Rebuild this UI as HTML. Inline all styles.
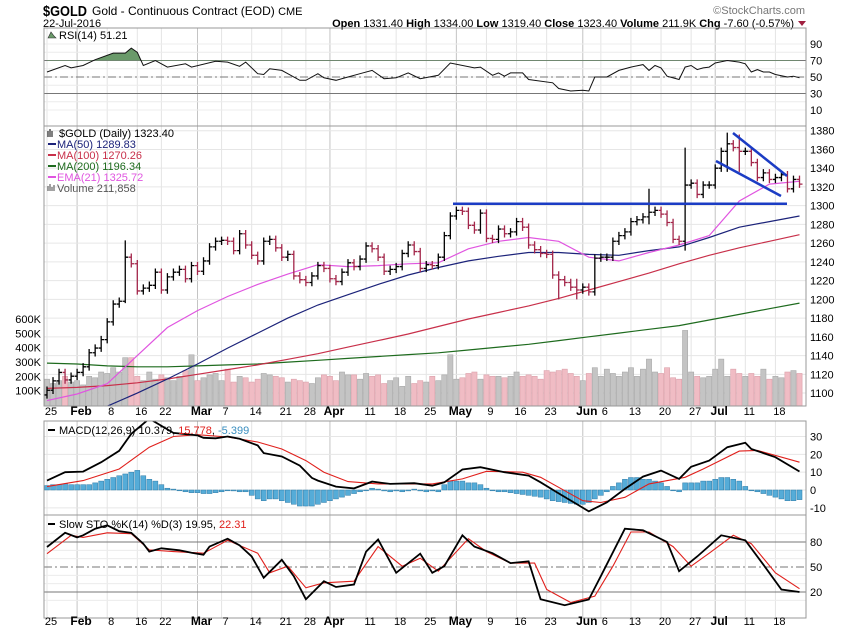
<!DOCTYPE html>
<html><head><meta charset="utf-8"><style>
body{margin:0;background:#fff;}
svg{display:block;font-family:"Liberation Sans",sans-serif;}
</style></head><body>
<svg id="c" width="850" height="633" viewBox="0 0 850 633" xmlns="http://www.w3.org/2000/svg">
<defs>
<clipPath id="cpR"><rect x="44" y="28" width="762" height="98"/></clipPath>
<clipPath id="cpP"><rect x="44" y="126" width="762" height="280"/></clipPath>
<clipPath id="cpM"><rect x="44" y="421" width="762" height="94"/></clipPath>
<clipPath id="cpS"><rect x="44" y="515" width="762" height="103"/></clipPath>
<clipPath id="cpRf"><rect x="44" y="28" width="762" height="33"/></clipPath>
</defs>
<g>
<text x="43" y="16" font-size="15" font-weight="bold" textLength="44" lengthAdjust="spacingAndGlyphs">$GOLD</text>
<text x="92" y="15" font-size="12">Gold - Continuous Contract (EOD) <tspan font-size="11">CME</tspan></text>
<text x="43" y="27" font-size="11">22-Jul-2016</text>
<text x="805" y="14" font-size="11" fill="#777" text-anchor="end">©StockCharts.com</text>
<text x="794" y="27" font-size="11" text-anchor="end"><tspan font-weight="bold">Open</tspan> 1331.40 <tspan font-weight="bold">High</tspan> 1334.00 <tspan font-weight="bold">Low</tspan> 1319.40 <tspan font-weight="bold">Close</tspan> 1323.40 <tspan font-weight="bold">Volume</tspan> 211.9K <tspan font-weight="bold">Chg</tspan> -7.60 (-0.57%)</text>
<path d="M798 21 L806 21 L802 26 Z" fill="#a02040"/>
</g>
<g id="grid"></g>
<g id="marks"></g>
<g id="frames"></g>
<g id="labels"></g>
</svg>
<script>
const closes=[1103,1113,1122,1114,1118,1122,1128,1143,1148,1157,1176,1195,1198,1245,1238,1209,1212,1215,1229,1210,1224,1229,1232,1222,1236,1230,1241,1256,1262,1263,1262,1252,1270,1258,1247,1241,1262,1264,1255,1245,1248,1225,1221,1218,1225,1236,1233,1222,1219,1229,1239,1235,1243,1257,1254,1245,1230,1232,1235,1249,1258,1251,1233,1237,1236,1245,1268,1289,1295,1294,1279,1274,1292,1265,1264,1275,1270,1272,1283,1277,1258,1253,1249,1248,1226,1221,1218,1213,1210,1213,1208,1244,1245,1245,1262,1268,1272,1283,1285,1288,1293,1295,1291,1282,1264,1262,1322,1324,1312,1322,1322,1340,1358,1366,1362,1358,1358,1346,1330,1335,1328,1330,1333,1318,1328,1323];
const spikeBar=[13,85,88,100,106,113,115];
const spikeHigh=[1263,1230,1222,1318,1362,1378,1376];
const spikeLow=[1196,1200,1200,1280,1252,1336,1336];
const volumes=[180,150,170,200,160,170,140,200,190,230,220,260,230,330,330,200,170,230,180,210,190,170,200,240,350,170,190,210,220,170,250,160,200,190,160,180,220,210,200,190,160,180,170,160,150,190,210,200,170,230,210,210,180,220,200,210,150,170,190,130,200,150,170,160,200,170,210,350,180,190,220,230,180,210,200,200,190,200,230,200,210,200,180,240,230,240,250,220,200,170,220,260,200,250,220,200,230,260,200,250,320,230,220,260,190,180,520,230,200,190,200,250,320,200,250,220,200,220,200,250,180,200,190,230,240,220];
const maBar=[0,5,10,15,20,25,30,35,40,45,50,55,60,65,70,75,80,85,90,95,100,105,110,115,120,125];
const ma200=[1132,1131,1129,1128,1128,1129,1130,1131,1133,1135,1137,1139,1141,1143,1146,1149,1152,1156,1160,1164,1168,1172,1178,1184,1190,1196];
const ma100=[1105,1106,1108,1111,1115,1120,1125,1130,1136,1142,1149,1156,1163,1171,1179,1186,1193,1201,1210,1219,1228,1238,1247,1255,1262,1269];
const ma50=[1060,1072,1086,1100,1115,1131,1148,1164,1180,1194,1205,1216,1226,1234,1241,1246,1250,1250,1248,1247,1252,1256,1266,1277,1283,1289];
const ema21=[1092,1099,1110,1140,1170,1188,1203,1216,1227,1237,1235,1236,1238,1239,1254,1262,1266,1262,1245,1241,1250,1258,1268,1305,1323,1326];
const rsiBar=[0,3,4,6,8,11,13,14,15,16,18,20,23,24,28,30,32,33,35,36,37,39,40,42,43,45,46,48,50,52,54,56,58,60,62,65,67,71,72,74,75,76,77,79,80,84,85,87,89,90,91,93,95,97,99,100,101,102,103,105,106,107,108,109,110,111,113,115,116,117,118,119,120,121,123,124,125];
const rsiVal=[56,64,61,64,71,79,79,85,80,64,70,62,66,62,69,68,63,68,54,53,60,58,54,46,46,54,49,46,50,54,58,48,49,55,48,52,67,61,62,52,55,51,55,55,47,43,36,33,34,33,50,50,58,62,65,58,64,61,51,47,62,64,59,61,62,67,70,68,66,56,59,56,56,53,50,51,49];
const macdBar=[0,3,6,9,12,14,17,21,25,26,28,30,32,35,36,39,42,44,45,48,51,54,57,61,64,66,69,72,76,80,82,85,88,90,93,96,99,102,105,107,110,113,116,117,121,125];
const macdVal=[5.3,10,10.3,15.6,22,31.5,40,32,30.6,29.3,29,30,28.7,25,20.7,18.8,13.7,6.8,5.3,1.9,0.9,4.7,3.4,3.8,2.4,4.3,11.5,12.8,10,8.1,4.3,-1.9,-7.9,-12,-6.9,0.6,7.5,10.9,6.2,13,16.5,24,26.5,23,18.4,10.4];
const sigBar=[0,6,12,17,21,25,30,35,39,43,46,50,55,64,69,73,79,82,86,89,92,96,100,106,109,115,118,125];
const sigVal=[1.9,5.3,11.8,24,30,31,29.7,26.9,23,16.5,10,4.7,3.4,3.4,6.2,10.5,10,7.1,-0.4,-6,-7,-4.1,3.4,7.1,11.8,21.8,22.2,15.6];
const histVal=[2.5,3,3,3.5,3,3,3,3,4,5,6,7,8,9,10,11,8,6,5,3,1,0.5,-0.3,-1,-1.5,-1.5,-2,-2,-1.5,-1,0,-0.5,-1,-1,-3,-5,-6,-5,-5,-6,-7,-8,-9,-9,-9,-8,-7,-6,-5,-4,-3,-2,-1,0,1,0.5,-0.5,-1,-0.5,-1,-0.5,0.5,-0.5,-1,-0.5,-1,3,5,5,5,4,4,3,1,0,-1,-1,-1.5,-2,-2.5,-3,-3.5,-4,-5,-6,-6.5,-7,-7.5,-8,-8,-7,-5,-3,-1,2,4,6,7,7,6,6,5,4,2,0,-1,4,4,4,5,5,6,7,7,6,5,2,0,-1,-2,-3,-4,-5,-6,-6,-5.4];
const stoKBar=[0,3,5,6,8,10,12,14,16,17,19,22,24,26,27,30,32,34,36,39,41,43,46,48,51,53,55,58,62,64,66,69,71,74,77,80,82,86,90,92,96,99,103,105,108,112,116,119,122,125];
const stoKVal=[74,91,85.5,88,96,100,93,91,78,68.5,72.5,70,67,64.6,74.5,84,76,62.6,37,58.7,39,11.3,33,26,29,68.5,83,43,66,43,51,88,74.5,66.6,54.7,56.7,11.3,4.2,11,39,96,94,80,45,62.6,88,82,52.8,23,20];
const stoDBar=[0,4,6,10,14,17,21,26,30,35,37,40,43,46,51,55,59,62,65,70,73,77,81,83,87,91,94,97,100,104,107,110,114,117,121,125];
const stoDVal=[66,88,85.5,91,90,70.5,68.5,66.6,82,66.6,43,51,25,31,33,74.5,51,60.6,45,84,68.5,54.7,54.7,23,7.4,15,51,92,92,74.5,51,66.6,88,78,43,24];
const dateBar=[0,5,10,15,19,25,29,34,39,43,47,53,58,63,68,73,78,83,89,92,97,102,107,111,116,121];
const dateText=["25","Feb","8","16","22","Mar","7","14","21","28","Apr","11","18","25","May","9","16","23","Jun","6","13","20","27","Jul","11","18"];
const rsiTicks=[90,70,50,30,10];
const priceTicks=[1380,1360,1340,1320,1300,1280,1260,1240,1220,1200,1180,1160,1140,1120,1100];
const volTicks=[600,500,400,300,200,100];
const macdTicks=[30,20,10,0,-10];
const stoTicks=[80,50,20];

const NS="http://www.w3.org/2000/svg";
const L=44,R=806;
const X=i=>47+6.02*i;
const yR=v=>77-(v-50)*0.825;
const yP=p=>130.7+(1380-p)*0.937;
const yV=v=>405-v*0.1434;
const yM=v=>490-v*1.783;
const yS=v=>592-(v-20)*0.8333;
function mk(parent,tag,attrs){const e=document.createElementNS(NS,tag);for(const k in attrs)e.setAttribute(k,attrs[k]);document.getElementById(parent).appendChild(e);return e;}
function txt(parent,x,y,s,attrs){const e=mk(parent,'text',Object.assign({x:x,y:y,'font-size':11},attrs||{}));e.textContent=s;return e;}
function poly(bars,vals,fy){return bars.map((b,k)=>X(b).toFixed(1)+','+fy(vals[k]).toFixed(1)).join(' ');}

const panels=[[28,126],[126,406],[421,515],[515,618]];
const monthSet=["Feb","Mar","Apr","May","Jun","Jul"];
dateBar.forEach((b,k)=>{
  const isM=monthSet.includes(dateText[k]);
  panels.forEach(pn=>{
    const g=mk('grid','line',{x1:X(b),x2:X(b),y1:pn[0],y2:pn[1],stroke:isM?'#c4c4c4':'#e4e4e4','stroke-width':1});
    
    
  });
});
for(let v=10;v<=90;v+=10){const g=mk('grid','line',{x1:L,x2:R,y1:yR(v),y2:yR(v),stroke:'#ececec'});}
priceTicks.forEach(p=>{const g=mk('grid','line',{x1:L,x2:R,y1:yP(p),y2:yP(p),stroke:'#e6e6e6'});});
[-10,0,10,20,30].forEach(v=>{const g=mk('grid','line',{x1:L,x2:R,y1:yM(v),y2:yM(v),stroke:'#e6e6e6'});});
[10,30,40,60,70,90].forEach(v=>{const g=mk('grid','line',{x1:L,x2:R,y1:yS(v),y2:yS(v),stroke:'#ececec'});});
[70,30].forEach(v=>{const g=mk('grid','line',{x1:L,x2:R,y1:yR(v),y2:yR(v),stroke:'#777'});});
{const g=mk('grid','line',{x1:L,x2:R,y1:yR(50),y2:yR(50),stroke:'#777','stroke-dasharray':'8,3,2,3'});}
[80,20].forEach(v=>{const g=mk('grid','line',{x1:L,x2:R,y1:yS(v),y2:yS(v),stroke:'#777'});});
{const g=mk('grid','line',{x1:L,x2:R,y1:yS(50),y2:yS(50),stroke:'#777','stroke-dasharray':'8,3,2,3'});}

{
  const pts=poly(rsiBar,rsiVal,yR);
  const a=mk('marks','polygon',{points:X(rsiBar[0])+','+yR(70)+' '+pts+' '+X(rsiBar[rsiBar.length-1])+','+yR(70),fill:'#6a9a6a','clip-path':'url(#cpRf)'});
  
  const l=mk('marks','polyline',{points:pts,fill:'none',stroke:'#111','stroke-width':1,'clip-path':'url(#cpR)'});
  
}
volumes.forEach((v,i)=>{
  const down=i>0&&closes[i]<closes[i-1];
  const r=mk('marks','rect',{x:X(i)-2.6,y:yV(v),width:5.2,height:406-yV(v),fill:down?'#f0bcc4':'#c4c4c4',stroke:down?'#dba0aa':'#a8a8a8','stroke-width':0.6,'clip-path':'url(#cpP)'});
  
});
[[ma200,'#1e6b1e','ma200-line'],[ma100,'#c8304a','ma100-line'],[ma50,'#1c237a','ma50-line'],[ema21,'#e055e0','ema21-line']].forEach(s=>{
  const l=mk('marks','polyline',{points:poly(maBar,s[0],yP),fill:'none',stroke:s[1],'stroke-width':1.2,'clip-path':'url(#cpP)'});
  
});
closes.forEach((c,i)=>{
  const prev=i>0?closes[i-1]:c-5;
  let hi=Math.max(c,prev)+4,lo=Math.min(c,prev)-4;
  const si=spikeBar.indexOf(i);
  if(si>=0){hi=spikeHigh[si];lo=spikeLow[si];}
  const col=c<prev?'#a3264a':'#000';
  const g=mk('marks','path',{d:`M${X(i)} ${yP(hi)}V${yP(lo)}M${X(i)} ${yP(c)}h3M${X(i)} ${yP(prev)}h-2.5`,stroke:col,'stroke-width':1.3,fill:'none','clip-path':'url(#cpP)'});
  
});
{
  const t1=mk('marks','line',{x1:453,y1:yP(1302),x2:787,y2:yP(1302),stroke:'#1b3cc4','stroke-width':2.5});
  
  const t2=mk('marks','line',{x1:733,y1:133,x2:787,y2:176,stroke:'#1b3cc4','stroke-width':2.5});
  
  const t3=mk('marks','line',{x1:716,y1:161,x2:781,y2:196,stroke:'#1b3cc4','stroke-width':2.5});
  
}
histVal.forEach((v,i)=>{
  const y0=yM(0),y1=yM(v);
  const r=mk('marks','rect',{x:X(i)-2.5,y:Math.min(y0,y1),width:5,height:Math.max(0.8,Math.abs(y1-y0)),fill:'#55acd8',stroke:'#2f7aa6','stroke-width':0.5,'clip-path':'url(#cpM)'});
  
});
{
  const s=mk('marks','polyline',{points:poly(sigBar,sigVal,yM),fill:'none',stroke:'#e0201c','stroke-width':1.1,'clip-path':'url(#cpM)'});
  
  const m=mk('marks','polyline',{points:poly(macdBar,macdVal,yM),fill:'none',stroke:'#000','stroke-width':1.8,'clip-path':'url(#cpM)'});
  
}
{
  const d=mk('marks','polyline',{points:poly(stoDBar,stoDVal,yS),fill:'none',stroke:'#e0201c','stroke-width':1.1,'clip-path':'url(#cpS)'});
  
  const k=mk('marks','polyline',{points:poly(stoKBar,stoKVal,yS),fill:'none',stroke:'#000','stroke-width':1.8,'clip-path':'url(#cpS)'});
  
}
panels.forEach(pn=>{
  const f=mk('frames','rect',{x:L,y:pn[0],width:R-L,height:pn[1]-pn[0],fill:'none',stroke:'#999','stroke-width':1});
  
});
rsiTicks.forEach(v=>{const t=txt('labels',810,yR(v)+4,String(v));});
priceTicks.forEach(v=>{const t=txt('labels',810,yP(v)+4,String(v));});
volTicks.forEach(v=>{const t=txt('labels',41,yV(v)+4,v+'K',{'text-anchor':'end'});});
macdTicks.forEach(v=>{const t=txt('labels',810,yM(v)+4,String(v));});
stoTicks.forEach(v=>{const t=txt('labels',810,yS(v)+4,String(v));});
[415,625].forEach(yy=>{
  dateBar.forEach((b,k)=>{
    const isM=monthSet.includes(dateText[k]);
    const t=txt('labels',X(b)+4,yy,dateText[k],{'text-anchor':'middle','font-weight':isM?'bold':'normal','font-size':isM?12:11});
    
  });
});
function leg(x,y,s,col,name){const t=txt('labels',x,y,s,{fill:col});return t;}
leg(59,39,'RSI(14) 51.21','#000','rsi-legend');
{const p=mk('labels','path',{d:'M48 38 L51 32 L54 36 L56 38Z',fill:'#6a9a6a',stroke:'#333','stroke-width':0.6});}
leg(59,137,'$GOLD (Daily) 1323.40','#000','price-legend');
{const p=mk('labels','path',{d:'M48 131v6M50 129v8M52 131v6',stroke:'#000','stroke-width':1});}
[['MA(50) 1289.83','#1c237a','ma50-legend'],['MA(100) 1270.26','#c8304a','ma100-legend'],['MA(200) 1196.34','#1e6b1e','ma200-legend'],['EMA(21) 1325.72','#e055e0','ema21-legend']].forEach((s,k)=>{
  const yy=148+k*11;
  const ln=mk('labels','line',{x1:48,x2:56,y1:yy-4,y2:yy-4,stroke:s[1],'stroke-width':2});
  
  leg(57,yy,s[0],s[1],s[2]);
});
leg(57,192,'Volume 211,858','#555','volume-legend');
{const p=mk('labels','path',{d:'M48 191v-5M50 191v-7M52 191v-4M54 191v-6',stroke:'#666','stroke-width':1.2});}
{
  const ln=mk('labels','line',{x1:48,x2:55,y1:430,y2:430,stroke:'#000','stroke-width':2});
  const t=txt('labels',59,434,'');
  t.innerHTML='MACD(12,26,9) 10.379, <tspan fill="#e0201c">15.778</tspan>, <tspan fill="#3b8fc0">-5.399</tspan>';
  const ln2=mk('labels','line',{x1:48,x2:55,y1:524,y2:524,stroke:'#000','stroke-width':2});
  const t2=txt('labels',59,528,'');
  t2.innerHTML='Slow STO %K(14) %D(3) 19.95, <tspan fill="#e0201c">22.31</tspan>';
}
</script>
</body></html>
